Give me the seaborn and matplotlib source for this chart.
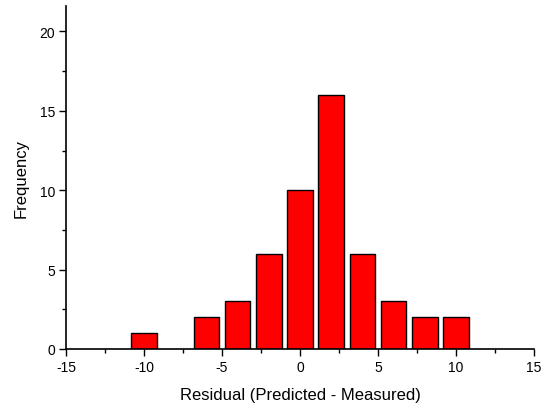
import matplotlib
matplotlib.use("Agg")
import matplotlib.pyplot as plt
from matplotlib.ticker import MultipleLocator
import seaborn as sns
import pandas as pd

residual_bins = [-10, -6, -4, -2, 0, 2, 4, 6, 8, 10]
frequency = [1, 2, 3, 6, 10, 16, 6, 3, 2, 2]
x_ticks = [-15, -10, -5, 0, 5, 10, 15]
y_ticks = [0, 5, 10, 15, 20]

sns.set_style("ticks")
plt.rcParams['font.family'] = ['Liberation Sans', 'DejaVu Sans']
plt.rcParams['axes.unicode_minus'] = False

df = pd.DataFrame({"Residual": residual_bins, "Frequency": frequency})

fig = plt.figure(figsize=(5.51, 4.06), dpi=100)
ax = fig.add_axes([66/551, 1-350/406, (534-66)/551, (350-7)/406])

sns.barplot(data=df, x="Residual", y="Frequency", native_scale=True,
            width=0.82, color="#FF0000", edgecolor="black", linewidth=1.0,
            saturation=1, ax=ax)

ax.set_xlim(-15, 15)
ax.set_ylim(0, 21.6)
ax.set_xticks(x_ticks)
ax.set_yticks(y_ticks)
ax.xaxis.set_minor_locator(MultipleLocator(2.5))
ax.yaxis.set_minor_locator(MultipleLocator(2.5))
ax.tick_params(which="major", direction="out", length=5, width=1, labelsize=10, color="black", labelcolor="black", pad=3)
ax.tick_params(which="minor", direction="out", length=3, width=1, color="black")
for s in ["top", "right"]:
    ax.spines[s].set_visible(False)
for s in ["left", "bottom"]:
    ax.spines[s].set_color("black")
    ax.spines[s].set_linewidth(1.2)
ax.set_xlabel("Residual (Predicted - Measured)", fontsize=12, color="black", labelpad=9)
ax.set_ylabel("Frequency", fontsize=12, color="black", labelpad=8)

fig.savefig("out.png", dpi=100)
